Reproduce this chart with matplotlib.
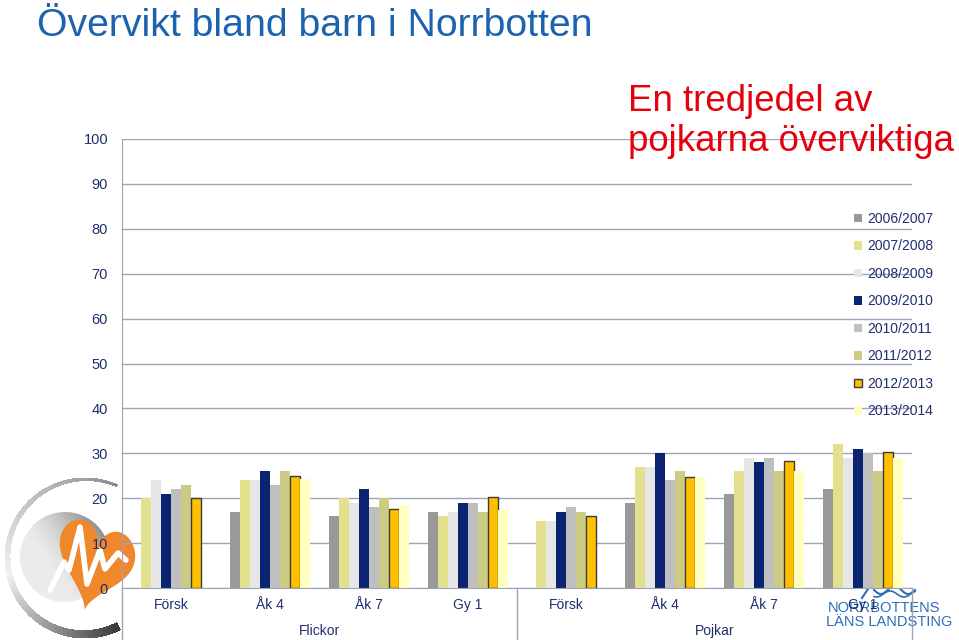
import numpy as np
import matplotlib
matplotlib.use("Agg")
import matplotlib.pyplot as plt
from matplotlib.patches import Patch, Polygon, Circle

plt.rcParams['font.family'] = ['Liberation Sans', 'DejaVu Sans']

# ---------------- data ----------------
categories = ['Försk', 'Åk 4', 'Åk 7', 'Gy 1', 'Försk', 'Åk 4', 'Åk 7', 'Gy 1']
groups = ['Flickor', 'Pojkar']
series_names = ['2006/2007', '2007/2008', '2008/2009', '2009/2010',
                '2010/2011', '2011/2012', '2012/2013', '2013/2014']
nan = np.nan
v0607 = [nan, 17, 16, 17, nan, 19, 21, 22]
v0708 = [20, 24, 20, 16, 15, 27, 26, 32]
v0809 = [24, 24, 19, 17, 15, 27, 29, 29]
v0910 = [21, 26, 22, 19, 17, 30, 28, 31]
v1011 = [22, 23, 18, 19, 18, 24, 29, 30]
v1112 = [23, 26, 20, 17, 17, 26, 26, 26]
v1213 = [20, 25, 17.6, 20.2, 16, 24.7, 28.3, 30.2]
v1314 = [nan, 24.2, 18.4, 17.4, nan, 24.7, 26, 29]
series_values = [v0607, v0708, v0809, v0910, v1011, v1112, v1213, v1314]
yticks = list(range(0, 101, 10))

title = 'Övervikt bland barn i Norrbotten'
note_lines = ['En tredjedel av', 'pojkarna överviktiga']

# ---------------- style ----------------
colors = ['#999999', '#E3E08E', '#E6E6E6', '#0A2472',
          '#BFBFBF', '#CCCB83', '#FFC000', '#FFFFC0']
edges = [None] * 6 + ['#3A3A3A', None]
gridc = '#A0A2BC'
navy = '#1F2E6E'
W, H = 959, 640

fig = plt.figure(figsize=(W / 100, H / 100), dpi=100)

# overlay for decorative logos (pixel coordinates, y down)
ov = fig.add_axes([0, 0, 1, 1], zorder=0)
ov.set_xlim(0, W)
ov.set_ylim(H, 0)
ov.axis('off')

# --- heart logo (bottom left) ---
cx, cy, R = 85, 558, 80
th = np.linspace(np.radians(66), np.radians(296), 120)
for k in range(len(th) - 1):
    f = k / (len(th) - 2)
    t0, t1 = th[k], th[k + 1] + 0.004
    thick = 2 + 6 * f
    r_in = R - thick
    pts = [(cx + R * np.cos(t0), cy - R * np.sin(t0)),
           (cx + R * np.cos(t1), cy - R * np.sin(t1)),
           (cx + r_in * np.cos(t1), cy - r_in * np.sin(t1)),
           (cx + r_in * np.cos(t0), cy - r_in * np.sin(t0))]
    if f < 0.55:
        g = 0.55 + 0.4 * (f / 0.55)
    else:
        g = 0.95 - 0.72 * ((f - 0.55) / 0.45)
    ov.add_patch(Polygon(pts, closed=True, facecolor=(g, g, g), edgecolor='none',
                         antialiased=False))

# inner gradient disk
gx, gy = np.meshgrid(np.linspace(0, 1, 100), np.linspace(0, 1, 100))
grad = 0.92 - 0.6 * np.clip((gx * 0.8 + (1 - gy) * 0.6 - 0.5), 0, 1) ** 1.5
im = ov.imshow(grad, cmap='gray', vmin=0, vmax=1, extent=(20, 110, 602, 512),
               interpolation='bilinear', zorder=1)
im.set_clip_path(Circle((65, 557), 45, transform=ov.transData))

# orange heart
t = np.linspace(0, 2 * np.pi, 200)
hx = 16 * np.sin(t) ** 3
hy = 13 * np.cos(t) - 5 * np.cos(2 * t) - 2 * np.cos(3 * t) - np.cos(4 * t)
ang = np.radians(-15)
rx = hx * np.cos(ang) - hy * np.sin(ang)
ry = hx * np.sin(ang) + hy * np.cos(ang)
ov.add_patch(Polygon(np.column_stack([95 + 2.4 * rx, 561 - 3.0 * ry]), closed=True,
                     facecolor='#F0872A', edgecolor='none', zorder=2))
px = [50, 64, 69, 80, 87, 100, 105, 118, 126]
py = [590, 562, 570, 527, 584, 550, 569, 553, 560]
ov.plot(px, py, color='white', lw=4, solid_joinstyle='round', solid_capstyle='round', zorder=3)

# --- Norrbotten logo (bottom right) ---
ov.plot([862, 870], [598, 586], color='#2E6DB4', lw=1.5, zorder=2)
wx = np.linspace(874, 915, 60)
ov.plot(wx, 590 + 4 * np.sin((wx - 874) / 41 * 3 * np.pi), color='#2E6DB4', lw=1.5, zorder=2)
ov.plot(wx, 594 + 3 * np.sin((wx - 874) / 41 * 3 * np.pi + 1), color='#2E6DB4', lw=1.2, zorder=2)
ov.text(884, 608, 'NORRBOTTENS', color='#2E6DB4', fontsize=10.5, ha='center', va='center', zorder=2)
ov.text(889, 622, 'LÄNS LANDSTING', color='#2E6DB4', fontsize=10.5, ha='center', va='center', zorder=2)

# ---------------- main chart ----------------
left, right, top, bottom = 122, 912, 139, 588
ax = fig.add_axes([left / W, (H - bottom) / H, (right - left) / W, (bottom - top) / H], zorder=1)
ax.set_facecolor('none')
n = len(series_names)
w = 0.101
m = (1 - n * w) / 2
x = np.arange(len(categories))
for i, (name, vals) in enumerate(zip(series_names, series_values)):
    kw = {}
    if edges[i]:
        kw = dict(edgecolor=edges[i], linewidth=1.0)
    ax.bar(x + m + i * w, vals, width=w, align='edge', color=colors[i], label=name, zorder=2, **kw)

ax.set_xlim(0, len(categories))
ax.set_ylim(0, 100)
ax.set_yticks(yticks)
ax.yaxis.grid(True, color=gridc, lw=1)
ax.set_axisbelow(True)
for s in ['top', 'right']:
    ax.spines[s].set_visible(False)
for s in ['left', 'bottom']:
    ax.spines[s].set_color(gridc)
ax.set_xticks([])
ax.tick_params(axis='y', length=0, pad=10, labelsize=10.5, labelcolor=navy)

tr = ax.get_xaxis_transform()
ph = bottom - top
for j, c in enumerate(categories):
    ax.text(j + 0.5, -(605 - bottom) / ph, c, transform=tr, ha='center', va='center',
            fontsize=10, color=navy)
for g, name in enumerate(groups):
    ax.text(g * 4 + 2, -(631 - bottom) / ph, name, transform=tr, ha='center', va='center',
            fontsize=10, color=navy)
for xs in [0, 4, 8]:
    ax.plot([xs, xs], [0, -(H - bottom) / ph], transform=tr, color=gridc, lw=1, clip_on=False)

# legend
handles = [Patch(facecolor=colors[i], edgecolor=(edges[i] or 'none'), linewidth=1.0)
           for i in range(n)]
fig.legend(handles, series_names, loc='upper left', bbox_to_anchor=(854 / W, 1 - 212 / H),
           frameon=False, fontsize=10, handlelength=0.55, handleheight=0.55,
           handletextpad=0.4, labelspacing=0.97, borderpad=0, borderaxespad=0,
           labelcolor=navy)

# texts
fig.text(37 / W, 1 - 36.5 / H, title, fontsize=28.3, color='#1C63AE', va='baseline', ha='left')
fig.text(628 / W, 1 - 111 / H, note_lines[0], fontsize=26.4, color='#E6000B', va='baseline', ha='left')
fig.text(628 / W, 1 - 151 / H, note_lines[1], fontsize=26.4, color='#E6000B', va='baseline', ha='left')

fig.savefig('out.png', dpi=100)
